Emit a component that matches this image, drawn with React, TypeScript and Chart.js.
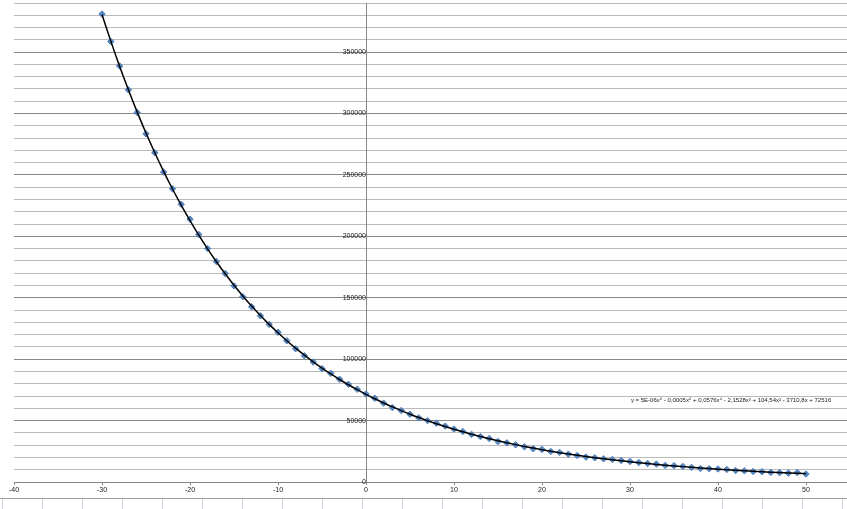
import React, { useEffect, useRef } from "react";
import { Chart, registerables } from "chart.js";

Chart.register(...registerables);

const temperatures = [
  -30, -29, -28, -27, -26, -25, -24, -23, -22, -21,
  -20, -19, -18, -17, -16, -15, -14, -13, -12, -11,
  -10, -9, -8, -7, -6, -5, -4, -3, -2, -1,
  0, 1, 2, 3, 4, 5, 6, 7, 8, 9,
  10, 11, 12, 13, 14, 15, 16, 17, 18, 19,
  20, 21, 22, 23, 24, 25, 26, 27, 28, 29,
  30, 31, 32, 33, 34, 35, 36, 37, 38, 39,
  40, 41, 42, 43, 44, 45, 46, 47, 48, 49,
  50,
];

const resistance = [
  381000, 358700, 338700, 319300, 300800, 283500, 268100, 252300, 238800, 226100,
  214000, 201500, 190100, 179500, 169800, 159700, 150800, 142600, 135300, 128300,
  121900, 115000, 108500, 102800, 97700, 92300, 88500, 83700, 79600, 75500,
  71700, 68200, 64200, 60600, 58200, 55200, 52200, 50000, 47900, 45500,
  43100, 41100, 38700, 37000, 35400, 33000, 31900, 30300, 28700, 27100,
  26500, 24900, 24100, 22700, 21600, 20300, 19700, 18900, 18400, 17500,
  16700, 15900, 15100, 14600, 13500, 13300, 12700, 11900, 11000, 10800,
  10600, 10200, 9400, 9100, 8600, 8400, 7800, 7600, 7300, 7700,
  6500,
];

const xTickLabels = ["-40", "-30", "-20", "-10", "0", "10", "20", "30", "40", "50"];
const equationText =
  "y = 5E-06x\u2076 - 0,0005x\u2075 + 0,0576x\u2074 - 2,1528x\u00B3 + 104,54x\u00B2 - 3710,8x + 72516";

// 6th-degree least-squares trend line of the data (like the spreadsheet trendline)
function polyFit(xs: number[], ys: number[], deg: number) {
  const c = 10, s = 40;
  const n = deg + 1;
  const A: number[][] = Array.from({ length: n }, () => new Array(n + 1).fill(0));
  for (let k = 0; k < xs.length; k++) {
    const t = (xs[k] - c) / s;
    const pw: number[] = [];
    for (let i = 0; i <= 2 * deg; i++) pw.push(Math.pow(t, i));
    for (let i = 0; i < n; i++) {
      for (let j = 0; j < n; j++) A[i][j] += pw[i + j];
      A[i][n] += pw[i] * ys[k];
    }
  }
  for (let i = 0; i < n; i++) {
    let p = i;
    for (let r = i + 1; r < n; r++) if (Math.abs(A[r][i]) > Math.abs(A[p][i])) p = r;
    [A[i], A[p]] = [A[p], A[i]];
    for (let r = 0; r < n; r++) {
      if (r === i) continue;
      const f = A[r][i] / A[i][i];
      for (let j = i; j <= n; j++) A[r][j] -= f * A[i][j];
    }
  }
  const coef = A.map((row, i) => row[n] / row[i]);
  return (x: number) => {
    const t = (x - c) / s;
    let v = 0;
    for (let i = deg; i >= 0; i--) v = v * t + coef[i];
    return v;
  };
}

function zeroPadding(scale: any) {
  scale.paddingLeft = 0;
  scale.paddingRight = 0;
  scale.paddingTop = 0;
  scale.paddingBottom = 0;
}

export default function App() {
  const canvasRef = useRef<HTMLCanvasElement | null>(null);

  useEffect(() => {
    const canvas = canvasRef.current;
    if (!canvas) return;
    const fit = polyFit(temperatures, resistance, 6);
    const points = temperatures.map((t, i) => ({ x: t, y: resistance[i] }));
    const trend = temperatures.map((t) => ({ x: t, y: fit(t) }));

    const equationPlugin = {
      id: "equationLabel",
      afterDatasetsDraw(chart: any) {
        const { ctx, scales } = chart;
        const px = scales.x.getPixelForValue(30.1);
        const py = scales.y.getPixelForValue(66300);
        ctx.save();
        ctx.font = '6px "Liberation Sans"';
        ctx.fillStyle = "#1a1a1a";
        ctx.textAlign = "left";
        ctx.textBaseline = "middle";
        ctx.fillText(equationText, px, py);
        ctx.restore();
      },
    };

    const chart = new Chart(canvas, {
      type: "scatter",
      data: {
        datasets: [
          {
            label: "Trend",
            type: "line",
            data: trend,
            borderColor: "#000000",
            borderWidth: 1.5,
            pointRadius: 0,
            fill: false,
            cubicInterpolationMode: "monotone",
            order: 0,
          } as any,
          {
            label: "R",
            data: points,
            pointStyle: "rectRot",
            pointRadius: 3.2,
            backgroundColor: "#5a8ac6",
            borderColor: "#4a7ebb",
            borderWidth: 1,
            order: 1,
          },
        ],
      },
      options: {
        responsive: false,
        animation: false,
        layout: { autoPadding: false, padding: { left: 14, top: 3, right: 0, bottom: 0 } },
        plugins: {
          legend: { display: false },
          tooltip: { enabled: false },
        },
        scales: {
          x: {
            type: "linear",
            position: "bottom",
            min: -40,
            max: 55,
            afterFit: (scale: any) => {
              scale.height = 15;
              zeroPadding(scale);
            },
            ticks: {
              stepSize: 10,
              includeBounds: false,
              autoSkip: false,
              maxRotation: 0,
              padding: 1,
              color: "#1a1a1a",
              font: { family: "Liberation Sans", size: 7 },
              callback: (v: any) => {
                const s = String(v);
                return xTickLabels.includes(s) ? s : "";
              },
            },
            grid: {
              drawOnChartArea: false,
              drawTicks: true,
              tickLength: 3,
              color: "#868686",
            },
            border: { display: true, color: "#868686", width: 1 },
          },
          y: {
            type: "linear",
            position: { x: 0 } as any,
            min: 0,
            max: 390000,
            afterFit: (scale: any) => {
              zeroPadding(scale);
            },
            ticks: {
              stepSize: 10000,
              autoSkip: false,
              padding: 4,
              color: "#1a1a1a",
              font: { family: "Liberation Sans", size: 7 },
              callback: (v: any) => (Number(v) % 50000 === 0 ? String(v) : ""),
            },
            grid: {
              drawTicks: false,
              color: (ctx: any) =>
                ctx.tick && ctx.tick.value % 50000 === 0 ? "#878787" : "#bababa",
              lineWidth: 1,
            },
            border: { display: true, color: "#868686", width: 1 },
          },
        },
      },
      plugins: [equationPlugin],
    });
    return () => chart.destroy();
  }, []);

  const cellLines: number[] = [];
  for (let k = 0; k < 22; k++) cellLines.push(2 + 40 * k);

  return (
    <div
      style={{
        position: "absolute",
        left: 0,
        top: 0,
        width: 847,
        height: 509,
        overflow: "hidden",
        background: "#ffffff",
      }}
    >
      <canvas ref={canvasRef} width={850} height={497} style={{ display: "block" }} />
      <div
        style={{
          position: "absolute",
          left: 0,
          top: 498,
          width: 847,
          height: 1,
          background: "#a0a0a0",
        }}
      />
      {cellLines.map((x) => (
        <div
          key={x}
          style={{
            position: "absolute",
            left: x,
            top: 499,
            width: 1,
            height: 10,
            background: "#c9d3e3",
          }}
        />
      ))}
    </div>
  );
}
